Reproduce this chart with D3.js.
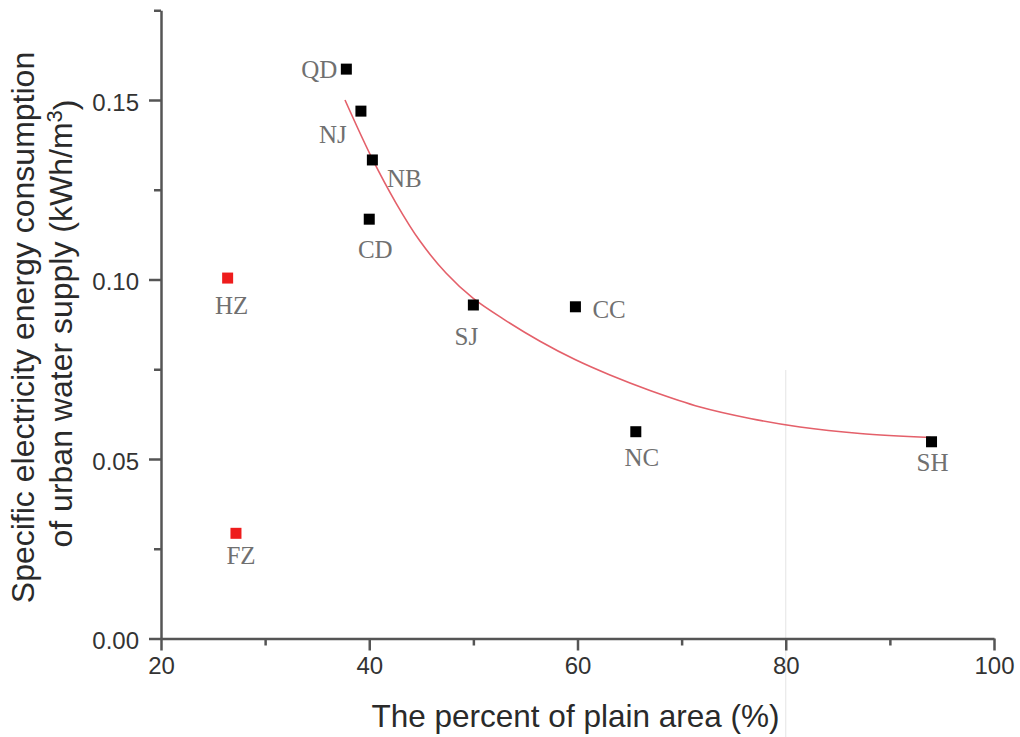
<!DOCTYPE html>
<html>
<head>
<meta charset="utf-8">
<script src="https://cdn.jsdelivr.net/npm/d3@7/dist/d3.min.js"></script>
<style>
  html, body { margin: 0; padding: 0; background: #fff; }
  svg { display: block; }
</style>
</head>
<body>
<svg id="chart" width="1020" height="737"></svg>
<script>
// City codes, plain-area share (%) and specific electricity use (kWh/m3)
const cities   = ["QD", "NJ", "NB", "CD", "HZ", "FZ", "SJ", "CC", "NC", "SH"];
const plainPct = [37.8, 39.2, 40.3, 40.0, 26.4, 27.2, 50.0, 59.8, 65.6, 94.0];
const elecUse  = [0.1586, 0.1469, 0.1333, 0.1168, 0.1004, 0.0293, 0.0929, 0.0924, 0.0576, 0.0548];
// Cities left out of the regression are drawn in red
const groups   = ["fit", "fit", "fit", "fit", "excluded", "excluded", "fit", "fit", "fit", "fit"];

// Fitted decay curve, sampled along its length
const fitX = [37.67, 40.26, 42.57, 44.87, 47.37, 49.96, 53.04, 56.40, 59.76, 63.12, 66.96, 71.77, 76.57, 81.37, 87.13, 93.95];
const fitY = [0.1500, 0.1338, 0.1213, 0.1107, 0.1018, 0.0948, 0.0887, 0.0828, 0.0777, 0.0734, 0.0691, 0.0645, 0.0613, 0.0589, 0.0571, 0.0560];

// Axis ticks
const xMajor = [20, 40, 60, 80, 100];
const xMinor = [30, 50, 70, 90];
const yMajor = [0.00, 0.05, 0.10, 0.15];
const yMinor = [0.025, 0.075, 0.125, 0.175];

const xTitle = "The percent of plain area (%)";
const yTitle1 = "Specific electricity energy consumption";
const yTitle2 = "of urban water supply (kWh/m";

// Label placement around each marker
const labelPlace = {
  QD: { anchor: "end",    dx: -9,   dy: 9 },
  NJ: { anchor: "middle", dx: -28,  dy: 32 },
  NB: { anchor: "middle", dx: 32,   dy: 27 },
  CD: { anchor: "middle", dx: 6,    dy: 39 },
  HZ: { anchor: "middle", dx: 4,    dy: 36 },
  FZ: { anchor: "middle", dx: 5,    dy: 31 },
  SJ: { anchor: "middle", dx: -7,   dy: 40 },
  CC: { anchor: "start",  dx: 17,   dy: 11 },
  NC: { anchor: "middle", dx: 6,    dy: 34 },
  SH: { anchor: "middle", dx: 1,    dy: 29 }
};

const svg = d3.select("#chart");
const W = 1020, H = 737;
const left = 161, right = 994, bottom = 638.5;

const x = d3.scaleLinear().domain([20, 100]).range([left, right]);
const y = d3.scaleLinear().domain([0, 0.175]).range([bottom, bottom - 0.175 * 3590]);

svg.append("rect").attr("width", W).attr("height", H).attr("fill", "#fff");

// faint vertical rule at 80 %
svg.append("line")
  .attr("x1", x(80)).attr("x2", x(80))
  .attr("y1", 370).attr("y2", H)
  .attr("stroke", "#e4e4e4").attr("stroke-width", 1);

const axisColor = "#555";
const tickFont = "'Liberation Sans', Arial, sans-serif";

function styleAxis(g, size) {
  g.selectAll(".domain").attr("stroke", axisColor).attr("stroke-width", 2.5);
  g.selectAll(".tick line").attr("stroke", axisColor).attr("stroke-width", 2.5);
  g.selectAll(".tick text")
    .attr("fill", "#333")
    .style("font-family", tickFont)
    .style("font-size", size + "px");
}

// x axis
const gxMinor = svg.append("g").attr("transform", `translate(0,${bottom})`)
  .call(d3.axisBottom(x).tickValues(xMinor).tickSize(7).tickFormat(""));
gxMinor.select(".domain").remove();
styleAxis(gxMinor, 24);

const gx = svg.append("g").attr("transform", `translate(0,${bottom})`)
  .call(d3.axisBottom(x).tickValues(xMajor).tickSize(12).tickSizeOuter(0).tickPadding(6).tickFormat(d3.format("d")));
styleAxis(gx, 24);

// y axis
const gyMinor = svg.append("g").attr("transform", `translate(${left},0)`)
  .call(d3.axisLeft(y).tickValues(yMinor).tickSize(7).tickFormat(""));
gyMinor.select(".domain").remove();
styleAxis(gyMinor, 24);

const gy = svg.append("g").attr("transform", `translate(${left},0)`)
  .call(d3.axisLeft(y).tickValues(yMajor).tickSize(12).tickSizeOuter(0).tickPadding(10).tickFormat(d3.format(".2f")));
styleAxis(gy, 24);
gy.selectAll(".tick text").attr("dy", "0.42em");

// axis titles
const titleFont = "'Liberation Sans', Arial, sans-serif";
svg.append("text")
  .attr("x", 575.5).attr("y", 727)
  .attr("text-anchor", "middle")
  .attr("fill", "#2a2a2a")
  .style("font-family", titleFont).style("font-size", "31.5px")
  .text(xTitle);

svg.append("text")
  .attr("transform", "translate(33.5,327.5) rotate(-90)")
  .attr("text-anchor", "middle")
  .attr("fill", "#2a2a2a")
  .style("font-family", titleFont).style("font-size", "32px")
  .text(yTitle1);

const t2 = svg.append("text")
  .attr("transform", "translate(71.5,323.5) rotate(-90)")
  .attr("text-anchor", "middle")
  .attr("fill", "#2a2a2a")
  .style("font-family", titleFont).style("font-size", "32px");
t2.append("tspan").text(yTitle2);
t2.append("tspan").attr("dy", "-0.45em").style("font-size", "22px").text("3");
t2.append("tspan").attr("dy", "0.45em").text(")");

// fitted curve
const curvePts = fitX.map((v, i) => [v, fitY[i]]);
svg.append("path")
  .datum(curvePts)
  .attr("fill", "none")
  .attr("stroke", "#e4606a")
  .attr("stroke-width", 1.6)
  .attr("d", d3.line().x(d => x(d[0])).y(d => y(d[1])).curve(d3.curveCatmullRom.alpha(0.5)));

// markers
const pts = cities.map((c, i) => ({ city: c, px: plainPct[i], e: elecUse[i], g: groups[i] }));
const size = 11;
svg.append("g").selectAll("rect")
  .data(pts).join("rect")
  .attr("x", d => x(d.px) - size / 2)
  .attr("y", d => y(d.e) - size / 2)
  .attr("width", size).attr("height", size)
  .attr("fill", d => d.g === "excluded" ? "#ee1c1c" : "#000");

// city labels
svg.append("g").selectAll("text")
  .data(pts).join("text")
  .attr("x", d => x(d.px) + labelPlace[d.city].dx)
  .attr("y", d => y(d.e) + labelPlace[d.city].dy)
  .attr("text-anchor", d => labelPlace[d.city].anchor)
  .attr("fill", "#707070")
  .style("font-family", "'Liberation Serif', 'Times New Roman', serif")
  .style("font-size", "25px")
  .text(d => d.city);
</script>
</body>
</html>
